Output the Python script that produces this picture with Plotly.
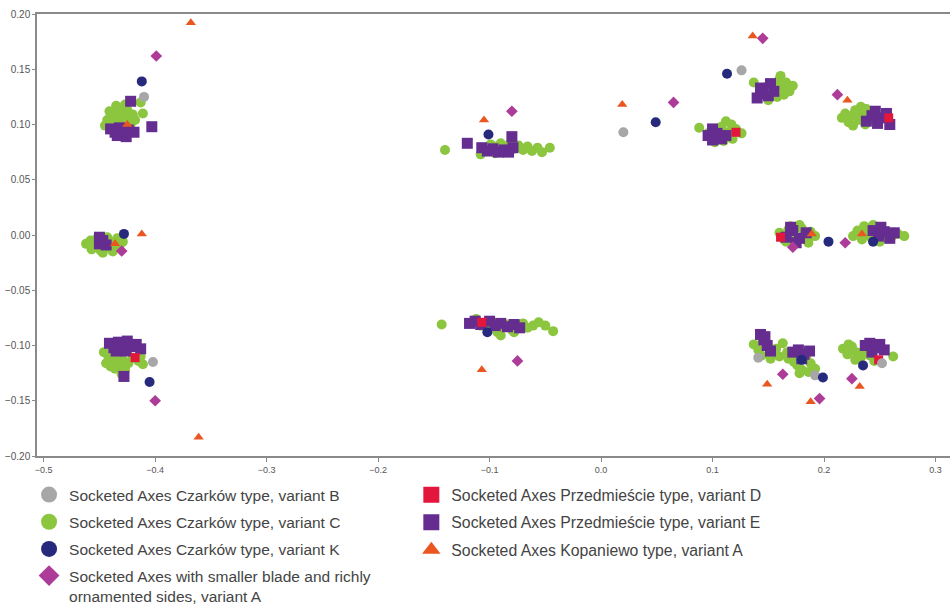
import plotly.graph_objects as go

# Socketed axe types: correspondence-analysis coordinates (dimension 1, dimension 2)

# Czarków type, variant C
czarkow_c_x = [
    -0.443, -0.440, -0.436, -0.432, -0.428, -0.425, -0.438, -0.433, -0.429, -0.424,
    -0.420, -0.418, -0.445, -0.430, -0.435, -0.411, -0.413, -0.422, -0.441, -0.427,
    -0.462, -0.458, -0.455, -0.452, -0.449, -0.446, -0.443, -0.440, -0.437, -0.434,
    -0.432, -0.457, -0.447, -0.438, -0.429,
    -0.446, -0.442, -0.438, -0.435, -0.431, -0.428, -0.444, -0.440, -0.436, -0.432,
    -0.427, -0.424, -0.430, -0.420, -0.415, -0.411, -0.413, -0.438,
    -0.140, -0.108, -0.104, -0.099, -0.094, -0.090, -0.086, -0.082, -0.078, -0.074,
    -0.070, -0.066, -0.062, -0.057, -0.053, -0.046, -0.085, -0.095,
    -0.143, -0.112, -0.108, -0.102, -0.097, -0.093, -0.088, -0.084, -0.080, -0.075,
    -0.070, -0.066, -0.061, -0.056, -0.050, -0.043, -0.090, -0.078,
    0.137, 0.148, 0.152, 0.156, 0.160, 0.163, 0.166, 0.169, 0.172, 0.158,
    0.164, 0.150, 0.161, 0.155,
    0.088, 0.096, 0.100, 0.104, 0.108, 0.112, 0.114, 0.118, 0.121, 0.126,
    0.102, 0.110, 0.117,
    0.216, 0.219, 0.222, 0.225, 0.228, 0.231, 0.234, 0.237, 0.240, 0.243,
    0.233, 0.226, 0.246, 0.238,
    0.160, 0.164, 0.168, 0.172, 0.176, 0.180, 0.184, 0.188, 0.192, 0.170,
    0.178, 0.186, 0.166,
    0.226, 0.230, 0.234, 0.238, 0.242, 0.236, 0.247, 0.252, 0.256, 0.261,
    0.266, 0.272, 0.244, 0.250,
    0.137, 0.141, 0.145, 0.149, 0.153, 0.157, 0.160, 0.163, 0.167, 0.152,
    0.144,
    0.168, 0.172, 0.176, 0.180, 0.184, 0.188, 0.192, 0.178, 0.186, 0.173,
    0.217, 0.221, 0.225, 0.229, 0.233, 0.237, 0.241, 0.245, 0.228, 0.222,
    0.262, 0.250,
]
czarkow_c_y = [
    0.104, 0.108, 0.110, 0.112, 0.110, 0.113, 0.101, 0.106, 0.104, 0.107,
    0.109, 0.104, 0.099, 0.115, 0.117, 0.110, 0.120, 0.100, 0.112, 0.118,
    -0.008, -0.005, -0.011, -0.003, -0.014, -0.008, -0.002, -0.012, -0.006, -0.003,
    -0.010, -0.013, -0.016, -0.015, -0.006,
    -0.106, -0.110, -0.104, -0.112, -0.108, -0.114, -0.116, -0.119, -0.121, -0.118,
    -0.122, -0.116, -0.126, -0.111, -0.114, -0.117, -0.110, -0.114,
    0.077, 0.073, 0.078, 0.082, 0.080, 0.083, 0.079, 0.082, 0.078, 0.081,
    0.077, 0.080, 0.076, 0.079, 0.075, 0.079, 0.076, 0.074,
    -0.081, -0.076, -0.082, -0.085, -0.079, -0.088, -0.084, -0.081, -0.086, -0.083,
    -0.080, -0.084, -0.082, -0.079, -0.082, -0.087, -0.091, -0.088,
    0.138, 0.134, 0.129, 0.137, 0.141, 0.133, 0.138, 0.130, 0.135, 0.125,
    0.127, 0.122, 0.144, 0.131,
    0.097, 0.092, 0.095, 0.088, 0.098, 0.103, 0.093, 0.087, 0.096, 0.092,
    0.084, 0.085, 0.100,
    0.106, 0.110, 0.102, 0.108, 0.113, 0.104, 0.109, 0.100, 0.106, 0.111,
    0.116, 0.099, 0.103, 0.114,
    0.002, -0.004, 0.005, 0.001, -0.005, 0.006, -0.002, 0.003, -0.001, 0.008,
    0.009, -0.007, -0.006,
    -0.001, 0.004, -0.004, 0.003, -0.002, 0.008, 0.005, -0.003, 0.002, -0.001,
    0.001, -0.001, 0.009, -0.006,
    -0.099, -0.104, -0.096, -0.101, -0.107, -0.103, -0.110, -0.098, -0.106, -0.112,
    -0.109,
    -0.112, -0.108, -0.118, -0.122, -0.110, -0.116, -0.121, -0.125, -0.124, -0.115,
    -0.103, -0.108, -0.101, -0.106, -0.111, -0.104, -0.109, -0.114, -0.113, -0.099,
    -0.110, -0.102,
]

# Przedmieście type, variant E
przedm_e_x = [
    -0.440, -0.436, -0.432, -0.428, -0.424, -0.419, -0.434, -0.426, -0.422, -0.403,
    -0.450, -0.450, -0.444, -0.447,
    -0.441, -0.437, -0.433, -0.429, -0.425, -0.421, -0.417, -0.413, -0.435, -0.426,
    -0.428,
    -0.120, -0.107, -0.102, -0.097, -0.092, -0.087, -0.083, -0.079, -0.080,
    -0.118, -0.113, -0.108, -0.100, -0.095, -0.090, -0.084, -0.078, -0.073,
    0.140, 0.145, 0.150, 0.155, 0.143, 0.152,
    0.096, 0.100, 0.104, 0.108, 0.112, 0.100,
    0.238, 0.243, 0.248, 0.252, 0.256, 0.246, 0.259,
    0.166, 0.172, 0.178, 0.184, 0.175, 0.170,
    0.244, 0.249, 0.254, 0.259, 0.263, 0.251,
    0.143, 0.146, 0.149, 0.152, 0.147,
    0.172, 0.177, 0.182, 0.187, 0.180,
    0.237, 0.241, 0.246, 0.250, 0.254, 0.243,
]
przedm_e_y = [
    0.096, 0.093, 0.097, 0.092, 0.095, 0.093, 0.090, 0.089, 0.121, 0.098,
    -0.002, -0.008, -0.009, -0.005,
    -0.098, -0.102, -0.097, -0.100, -0.096, -0.101, -0.099, -0.103, -0.105, -0.105,
    -0.128,
    0.083, 0.079, 0.076, 0.078, 0.075, 0.077, 0.075, 0.079, 0.089,
    -0.080, -0.078, -0.081, -0.078, -0.082, -0.080, -0.083, -0.081, -0.084,
    0.124, 0.128, 0.126, 0.130, 0.133, 0.137,
    0.090, 0.086, 0.092, 0.087, 0.090, 0.096,
    0.103, 0.108, 0.101, 0.106, 0.110, 0.112, 0.100,
    -0.002, 0.004, -0.003, 0.002, -0.007, 0.007,
    0.004, -0.001, 0.003, -0.003, 0.002, 0.007,
    -0.090, -0.095, -0.100, -0.105, -0.092,
    -0.106, -0.104, -0.108, -0.105, -0.112,
    -0.100, -0.098, -0.102, -0.099, -0.104, -0.106,
]

# Przedmieście type, variant D
przedm_d_x = [-0.418, -0.107, 0.121, 0.258, 0.161, 0.249]
przedm_d_y = [-0.111, -0.079, 0.093, 0.106, -0.002, -0.113]

# Czarków type, variant B
czarkow_b_x = [-0.410, -0.402, 0.020, 0.126, 0.141, 0.192, 0.252]
czarkow_b_y = [0.125, -0.115, 0.093, 0.149, -0.111, -0.127, -0.116]

# Czarków type, variant K
czarkow_k_x = [-0.412, -0.428, -0.405, -0.101, -0.102, 0.049, 0.113, 0.204, 0.244, 0.180, 0.199, 0.235]
czarkow_k_y = [0.139, 0.001, -0.133, 0.091, -0.088, 0.102, 0.146, -0.006, -0.006, -0.113, -0.129, -0.118]

# Smaller blade and richly ornamented sides, variant A
ornamented_a_x = [-0.399, -0.430, -0.400, -0.080, -0.075, 0.065, 0.145, 0.212, 0.172, 0.219, 0.163, 0.196, 0.225]
ornamented_a_y = [0.162, -0.0145, -0.150, 0.112, -0.114, 0.120, 0.178, 0.127, -0.011, -0.007, -0.126, -0.148, -0.130]

# Kopaniewo type, variant A
kopaniewo_a_x = [-0.368, -0.412, -0.436, -0.425, -0.361, -0.105, -0.107, 0.019, 0.136, 0.221, 0.189, 0.234, 0.149, 0.188, 0.232]
kopaniewo_a_y = [0.192, 0.001, -0.008, 0.100, -0.183, 0.104, -0.122, 0.118, 0.180, 0.122, 0.001, 0.001, -0.135, -0.151, -0.137]

x_ticks = [-0.5, -0.4, -0.3, -0.2, -0.1, 0.0, 0.1, 0.2, 0.3]
y_ticks = [-0.20, -0.15, -0.10, -0.05, 0.00, 0.05, 0.10, 0.15, 0.20]

GREEN = "#8cc63f"
PURPLE = "#652d90"
RED = "#e3173c"
GRAY = "#a7a7a7"
NAVY = "#27297d"
MAGENTA = "#ad3b98"
ORANGE = "#ea561f"

fig = go.Figure()

def add_points(xs, ys, name, color, symbol, size, legend, rank):
    fig.add_trace(go.Scatter(
        x=xs, y=ys, mode="markers", name=name,
        marker=dict(color=color, symbol=symbol, size=size, line=dict(width=0)),
        showlegend=False,
    ))
    # legend entry with a larger key symbol
    fig.add_trace(go.Scatter(
        x=[None], y=[None], mode="markers", name=name,
        marker=dict(color=color, symbol=symbol, size=16, line=dict(width=0)),
        legend=legend, legendrank=rank, legendgroup=name,
    ))

add_points(czarkow_c_x, czarkow_c_y, "Socketed Axes Czarków type, variant C", GREEN, "circle", 10, "legend", 2)
add_points(przedm_e_x, przedm_e_y, "Socketed Axes Przedmieście type, variant E", PURPLE, "square", 11, "legend2", 2)
add_points(przedm_d_x, przedm_d_y, "Socketed Axes Przedmieście type, variant D", RED, "square", 9, "legend2", 1)
add_points(czarkow_b_x, czarkow_b_y, "Socketed Axes Czarków type, variant B", GRAY, "circle", 10, "legend", 1)
add_points(czarkow_k_x, czarkow_k_y, "Socketed Axes Czarków type, variant K", NAVY, "circle", 10, "legend", 3)
add_points(ornamented_a_x, ornamented_a_y,
           "Socketed Axes with smaller blade and richly<br>ornamented sides, variant A",
           MAGENTA, "diamond", 9, "legend3", 1)
add_points(kopaniewo_a_x, kopaniewo_a_y, "Socketed Axes Kopaniewo type, variant A", ORANGE, "triangle-up", 9, "legend2", 3)

x_axis_font = dict(family="Liberation Sans Narrow, Liberation Sans, Arial, sans-serif", size=9, color="#555555")
y_axis_font = dict(family="Liberation Sans, Arial, sans-serif", size=10, color="#555555")
font_left = dict(family="Liberation Sans, Arial, sans-serif", size=15.5, color="#444444")
font_right = dict(family="Liberation Sans, Arial, sans-serif", size=15.8, color="#444444")

legend_common = dict(
    xref="paper", yref="container", xanchor="left", yanchor="top",
    orientation="v", tracegroupgap=4, valign="top", bgcolor="rgba(0,0,0,0)",
)

fig.update_layout(
    width=950, height=604,
    margin=dict(l=37, r=0, t=14, b=148),
    paper_bgcolor="white", plot_bgcolor="white",
    xaxis=dict(
        range=[-0.506, 0.313], tickvals=x_ticks, tickformat=".1f",
        showgrid=False, zeroline=False, showline=True, mirror=True,
        linecolor="#8a8a8a", linewidth=1.5, ticks="outside", ticklen=4,
        tickcolor="#8a8a8a", tickfont=x_axis_font,
    ),
    yaxis=dict(
        range=[-0.2, 0.2], tickvals=y_ticks, tickformat=".2f",
        showgrid=False, zeroline=False, showline=True,
        linecolor="#8a8a8a", linewidth=1.5, ticks="outside", ticklen=3,
        tickcolor="#8a8a8a", tickfont=y_axis_font,
    ),
    legend=dict(x=-0.0087, y=0.2086, font=font_left, **legend_common),
    legend2=dict(x=0.41, y=0.2086, font=font_right, **legend_common),
    legend3=dict(x=-0.0087, y=0.0745, font=font_left, **legend_common),
)

fig.write_html("out.html")
